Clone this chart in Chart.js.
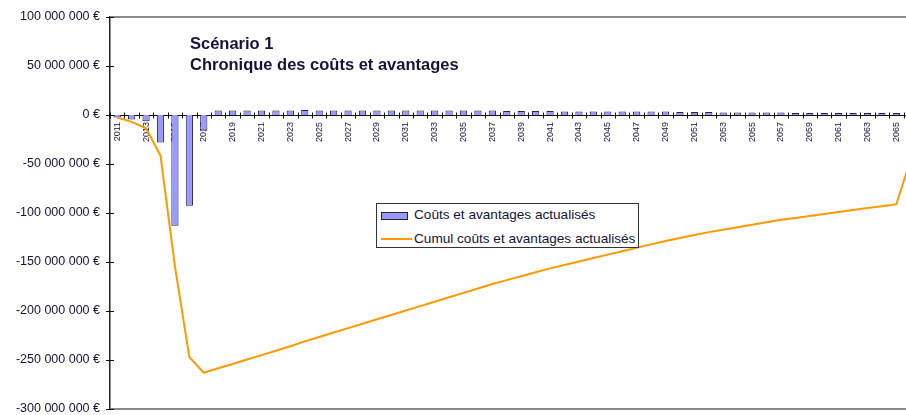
<!DOCTYPE html>
<html lang="fr">
<head>
<meta charset="utf-8">
<title>Scénario 1 - Chronique des coûts et avantages</title>
<script src="https://cdn.jsdelivr.net/npm/chart.js@4.4.1/dist/chart.umd.min.js"></script>
<style>
  html, body { margin: 0; padding: 0; background: #fff; overflow: hidden; }
  #wrap { position: relative; width: 930px; height: 415px; }
  #titre {
    position: absolute; left: 190px; top: 33px;
    font: bold 16.5px "Liberation Sans", Arial, sans-serif;
    color: #14143a; line-height: 21px;
  }
  #legende {
    position: absolute; left: 376px; top: 203px; width: 261px; height: 43px;
    border: 1px solid #333; background: #fff;
    font: 13.6px "Liberation Sans", Arial, sans-serif; color: #14143a;
  }
  .item { position: absolute; left: 37px; line-height: 16px; white-space: nowrap; }
  .swatch-bar { position: absolute; left: 4px; top: 8px; width: 25px; height: 6px; background: #9999ff; border: 1px solid #222244; }
  .swatch-line { position: absolute; left: 4px; top: 34px; width: 31px; height: 2px; background: #ff9900; }
</style>
</head>
<body>
<div id="wrap">
  <canvas id="chart" width="930" height="415"></canvas>
  <div id="titre">Scénario 1<br>Chronique des coûts et avantages</div>
  <div id="legende">
    <div class="swatch-bar"></div>
    <div class="item" style="top:3px">Coûts et avantages actualisés</div>
    <div class="swatch-line"></div>
    <div class="item" style="top:27px">Cumul coûts et avantages actualisés</div>
  </div>
</div>
<script>
// années (une barre par an)
const annees = [
  "2011","2012","2013","2014","2015","2016","2017","2018","2019","2020",
  "2021","2022","2023","2024","2025","2026","2027","2028","2029","2030",
  "2031","2032","2033","2034","2035","2036","2037","2038","2039","2040",
  "2041","2042","2043","2044","2045","2046","2047","2048","2049","2050",
  "2051","2052","2053","2054","2055","2056","2057","2058","2059","2060",
  "2061","2062","2063","2064","2065","2066"
];

// coûts et avantages actualisés, en millions d'euros
const coutsAvantages = [
  -2.5, -4.5, -6.5, -28, -113, -92.5, -16, 4.5, 4.5, 4.5,
  4.5, 4.5, 4.5, 5, 4.5, 4.5, 4.5, 4.5, 4.5, 4.5,
  4.5, 4.5, 4.5, 4.5, 4.5, 4.5, 4.5, 4, 4, 4,
  4, 3.5, 3.5, 3.5, 3.5, 3.5, 3.5, 3.5, 3.5, 3,
  3, 3, 2.5, 2.5, 2.5, 2.5, 2.5, 2, 2, 2,
  2, 2, 2, 2, 2, 46
];

// cumul, en millions d'euros
const cumul = [
  -2.5, -7, -13.5, -41.5, -154.5, -247, -263, -258.5, -254, -249.5,
  -245, -240.5, -236, -231, -226.5, -222, -217.5, -213, -208.5, -204,
  -199.5, -195, -190.5, -186, -181.5, -177, -172.5, -168.5, -164.5, -160.5,
  -156.5, -153, -149.5, -146, -142.5, -139, -135.5, -132, -128.5, -125.5,
  -122.5, -119.5, -117, -114.5, -112, -109.5, -107, -105, -103, -101,
  -99, -97, -95, -93, -91, -45
];

const yMin = -300, yMax = 100, yPas = 50;

function formatEuros(m) {
  const n = Math.round(Math.abs(m) * 1000000);
  const s = String(n).replace(/\B(?=(\d{3})+(?!\d))/g, " ");
  return (m < 0 ? "-" : "") + s + " €";
}

const police = "'Liberation Sans', Arial, sans-serif";
const texte = "#14143a";

// cadre gris + petits traits de graduation qui croisent les axes
const cadre = {
  id: "cadre",
  beforeDatasetsDraw(chart) {
    const { ctx, chartArea: a } = chart;
    ctx.save();
    ctx.strokeStyle = "#8a8a8a";
    ctx.lineWidth = 2;
    ctx.beginPath();
    ctx.moveTo(a.left, a.top); ctx.lineTo(a.right, a.top);
    ctx.moveTo(a.left, a.bottom); ctx.lineTo(a.right, a.bottom);
    ctx.stroke();
    ctx.restore();
  },
  afterDraw(chart) {
    const { ctx, scales: { x, y } } = chart;
    ctx.save();
    ctx.strokeStyle = "#111";
    ctx.lineWidth = 1;
    ctx.beginPath();
    const y0 = Math.round(y.getPixelForValue(0)) + 0.5;
    for (let i = 0; i <= annees.length; i++) {
      const px = Math.round(x.getPixelForValue(i - 0.5)) + 0.5;
      ctx.moveTo(px, y0 - 3); ctx.lineTo(px, y0 + 3);
    }
    for (const t of y.ticks) {
      const py = Math.round(y.getPixelForValue(t.value)) + 0.5;
      ctx.moveTo(y.right - 4, py); ctx.lineTo(y.right + 4, py);
    }
    ctx.stroke();
    ctx.restore();
  }
};

new Chart(document.getElementById("chart"), {
  type: "bar",
  data: {
    labels: annees,
    datasets: [
      {
        type: "line",
        label: "Cumul coûts et avantages actualisés",
        data: cumul,
        borderColor: "#ff9900",
        borderWidth: 2,
        pointRadius: 0,
        tension: 0,
        order: 0
      },
      {
        label: "Coûts et avantages actualisés",
        data: coutsAvantages,
        backgroundColor: "#9999ff",
        borderColor: "#222244",
        borderWidth: 1,
        categoryPercentage: 1,
        barPercentage: 0.5,
        order: 1
      }
    ]
  },
  options: {
    responsive: false,
    animation: false,
    layout: { padding: { top: 17, bottom: 6, right: 12, left: 0 } },
    plugins: { legend: { display: false }, tooltip: { enabled: false }, title: { display: false } },
    scales: {
      x: {
        position: { y: 0 },
        offset: true,
        grid: { display: false, drawTicks: false },
        border: { display: true, color: "#111", width: 1 },
        afterFit(scale) { scale.height = 0; scale.paddingLeft = 0; scale.paddingRight = 0; },
        ticks: {
          autoSkip: false,
          maxRotation: 90,
          minRotation: 90,
          padding: 7,
          color: texte,
          font: { family: police, size: 9 },
          callback: (v, i) => (i % 2 === 0 ? annees[i] : "")
        }
      },
      y: {
        min: yMin,
        max: yMax,
        afterFit(scale) { scale.width = 110; scale.paddingTop = 0; scale.paddingBottom = 0; },
        grid: { display: false, drawTicks: false },
        border: { display: true, color: "#222", width: 1.5 },
        ticks: {
          stepSize: yPas,
          padding: 10,
          color: texte,
          font: { family: police, size: 12.5 },
          callback: v => formatEuros(v)
        }
      }
    }
  },
  plugins: [cadre]
});
</script>
</body>
</html>
